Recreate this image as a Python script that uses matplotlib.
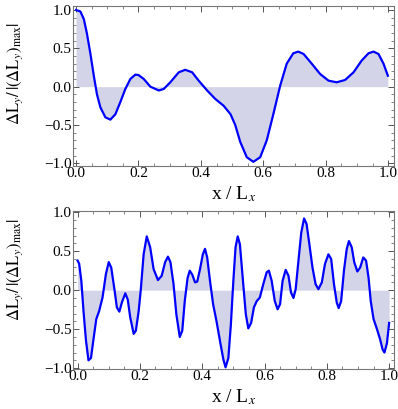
import numpy as np
from matplotlib import pyplot as plt
from matplotlib.ticker import MultipleLocator

plt.rcParams['font.family'] = 'Liberation Serif'
plt.rcParams['mathtext.fontset'] = 'stix'

# top panel: x / Lx and normalised Delta L_y
x_top = [0.0, 0.014, 0.025, 0.035, 0.046, 0.057, 0.067, 0.078, 0.094, 0.11,
         0.126, 0.142, 0.158, 0.174, 0.19, 0.20, 0.217, 0.238, 0.265, 0.281,
         0.302, 0.329, 0.35, 0.372, 0.393, 0.42, 0.446, 0.473, 0.495, 0.51,
         0.526, 0.547, 0.568, 0.59, 0.611, 0.632, 0.654, 0.675, 0.696, 0.712,
         0.729, 0.755, 0.782, 0.809, 0.835, 0.862, 0.889, 0.915, 0.937, 0.953,
         0.969, 0.985, 0.999]
y_top = [1.0, 0.98, 0.88, 0.69, 0.43, 0.14, -0.10, -0.27, -0.40, -0.43,
         -0.36, -0.20, -0.03, 0.10, 0.157, 0.152, 0.10, 0.0, -0.05, -0.03,
         0.057, 0.187, 0.22, 0.187, 0.078, -0.05, -0.16, -0.25, -0.36, -0.50,
         -0.72, -0.92, -0.98, -0.92, -0.70, -0.36, 0.013, 0.30, 0.435, 0.457,
         0.426, 0.30, 0.165, 0.078, 0.057, 0.087, 0.187, 0.34, 0.435, 0.457,
         0.426, 0.30, 0.143]

# bottom panel
x_bot = [0.0, 0.005, 0.012, 0.019, 0.027, 0.035, 0.043, 0.051, 0.06, 0.069,
         0.08, 0.091, 0.10, 0.108, 0.119, 0.126, 0.134, 0.142, 0.153, 0.161,
         0.169, 0.18, 0.187, 0.196, 0.203, 0.212, 0.222, 0.233, 0.244, 0.258,
         0.27, 0.281, 0.29, 0.298, 0.308, 0.317, 0.328, 0.336, 0.344, 0.353,
         0.36, 0.368, 0.377, 0.384, 0.393, 0.402, 0.409, 0.416, 0.425, 0.435,
         0.446, 0.457, 0.468, 0.475, 0.484, 0.492, 0.50, 0.507, 0.514, 0.521,
         0.53, 0.54, 0.548, 0.557, 0.566, 0.575, 0.585, 0.596, 0.607, 0.614,
         0.623, 0.633, 0.642, 0.65, 0.658, 0.668, 0.677, 0.685, 0.693, 0.70,
         0.709, 0.718, 0.727, 0.735, 0.744, 0.754, 0.764, 0.773, 0.784, 0.794,
         0.805, 0.814, 0.823, 0.832, 0.838, 0.846, 0.855, 0.864, 0.871, 0.88,
         0.888, 0.898, 0.907, 0.917, 0.926, 0.934, 0.941, 0.95, 0.961, 0.971,
         0.979, 0.985, 0.993, 1.0]
y_bot = [0.38, 0.34, 0.12, -0.27, -0.65, -0.90, -0.87, -0.63, -0.37, -0.27,
         -0.095, 0.21, 0.36, 0.29, -0.01, -0.22, -0.275, -0.16, -0.04, -0.12,
         -0.35, -0.56, -0.52, -0.27, 0.013, 0.46, 0.69, 0.55, 0.27, 0.13,
         0.185, 0.36, 0.43, 0.36, 0.077, -0.31, -0.60, -0.52, -0.14, 0.155,
         0.25, 0.20, 0.10, 0.11, 0.27, 0.46, 0.53, 0.42, 0.12, -0.18,
         -0.40, -0.65, -0.89, -0.99, -0.87, -0.44, 0.12, 0.55, 0.69, 0.59,
         0.16, -0.31, -0.49, -0.42, -0.22, -0.14, -0.095, 0.077, 0.23, 0.25,
         0.12, -0.14, -0.245, -0.18, 0.12, 0.26, 0.185, -0.03, -0.10, 0.013,
         0.38, 0.74, 0.92, 0.85, 0.59, 0.29, 0.077, 0.013, 0.10, 0.335,
         0.46, 0.40, 0.077, -0.16, -0.23, -0.14, 0.25, 0.53, 0.63, 0.55,
         0.36, 0.24, 0.29, 0.42, 0.38, 0.16, -0.14, -0.37, -0.50, -0.63,
         -0.76, -0.80, -0.68, -0.42]

ylabel = r'$\Delta\mathrm{L}_y/\,|(\Delta\mathrm{L}_y)_{\mathrm{max}}|$'
xlabel = r'x / L$_x$'

fig = plt.figure(figsize=(3.98, 4.09), dpi=100)
ax1 = fig.add_axes([0.184, 0.595, 0.807, 0.39])
ax2 = fig.add_axes([0.184, 0.098, 0.807, 0.385])

def style(ax, x, y, xlim, ylim, label_y):
    ax.fill_between(x, y, 0, color='#d4d4e8', lw=0)
    ax.plot(x, y, color='#0000ff', lw=1.6, solid_joinstyle='round')
    ax.set_xlim(*xlim)
    ax.set_ylim(*ylim)
    ax.xaxis.set_major_locator(MultipleLocator(0.2))
    ax.xaxis.set_minor_locator(MultipleLocator(0.05))
    ax.yaxis.set_major_locator(MultipleLocator(0.5))
    ax.yaxis.set_minor_locator(MultipleLocator(0.1))
    ax.xaxis.set_major_formatter(plt.FuncFormatter(lambda v, p: f'{v:.1f}'))
    ax.yaxis.set_major_formatter(plt.FuncFormatter(
        lambda v, p: f'{v:.1f}'.replace('-', '\u2212')))
    ax.tick_params(which='both', direction='in', top=True, right=True,
                   labelsize=11, color='#555555', pad=1)
    ax.tick_params(which='major', length=4, width=0.7)
    ax.tick_params(which='minor', length=2, width=0.5)
    for s in ax.spines.values():
        s.set_color('#777777')
        s.set_linewidth(0.8)
    ax.set_xlabel(xlabel, fontsize=14, labelpad=3)
    ax.set_ylabel(ylabel, fontsize=12)
    ax.yaxis.set_label_coords(-0.15, label_y)

style(ax1, x_top, y_top, (-0.009, 1.02), (-1.03, 1.05), 0.58)
style(ax2, x_bot, y_bot, (-0.014, 1.017), (-1.01, 1.01), 0.63)

fig.savefig('out.png', dpi=100)
